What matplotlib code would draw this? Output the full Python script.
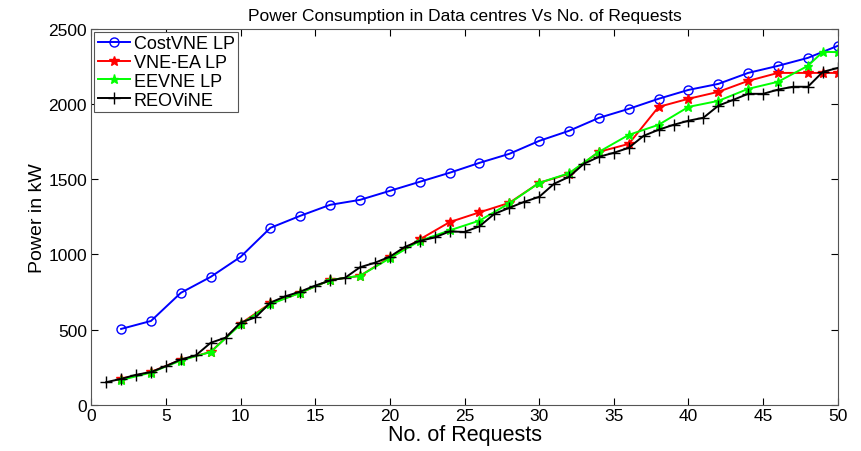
import numpy as np
import matplotlib.pyplot as plt

plt.rcParams['font.family'] = ['Liberation Sans', 'DejaVu Sans']

# data
x_even = list(range(2, 51, 2))
cost_vne = [505, 558, 745, 851, 984, 1177, 1257, 1330, 1363, 1423, 1483, 1543, 1609,
            1669, 1755, 1822, 1908, 1968, 2035, 2094, 2134, 2207, 2254, 2307, 2387]

x_ea = list(range(2, 49, 2)) + [49, 50]
vne_ea = [173, 219, 299, 352, 540, 675, 745, 830, 858, 980, 1100, 1215, 1280, 1343,
          1476, 1536, 1682, 1735, 1981, 2035, 2081, 2154, 2207, 2207, 2207, 2207]

x_ee = list(range(2, 49, 2)) + [49, 50]
eevne = [165, 215, 295, 352, 535, 670, 745, 830, 858, 975, 1090, 1160, 1225, 1340,
         1476, 1540, 1682, 1795, 1862, 1981, 2021, 2101, 2148, 2254, 2347, 2345]

x_all = list(range(1, 51))
reovine = [151, 173, 200, 218, 258, 302, 329, 413, 447, 547,
           582, 680, 722, 753, 793, 827, 845, 915, 945, 985,
           1050, 1090, 1113, 1153, 1150, 1187, 1270, 1310, 1350, 1383,
           1470, 1516, 1603, 1649, 1676, 1709, 1789, 1829, 1862, 1889,
           1909, 1989, 2028, 2068, 2068, 2096, 2115, 2115, 2214, 2240]

fig = plt.figure(figsize=(8.61, 4.52), dpi=100)
ax = fig.add_axes([0.106, 0.102, 0.867, 0.832])

ax.plot(x_even, cost_vne, color='#0000ff', marker='o', markersize=6.5,
        markerfacecolor='none', linewidth=1.4, label='CostVNE LP')
ax.plot(x_ea, vne_ea, color='#ff0000', marker='*', markersize=7.5,
        linewidth=1.4, label='VNE-EA LP')
ax.plot(x_ee, eevne, color='#00ff00', marker='*', markersize=6.5,
        linewidth=1.4, label='EEVNE LP')
ax.plot(x_all, reovine, color='black', marker='+', markersize=8,
        linewidth=1.4, label='REOViNE')

ax.set_xlim(0, 50)
ax.set_ylim(0, 2500)
ax.set_xticks(np.arange(0, 51, 5))
ax.set_yticks(np.arange(0, 2501, 500))
ax.tick_params(direction='in', top=True, right=True, labelsize=12.5, length=5, pad=3)
ax.tick_params(axis='x', pad=2)
for s in ax.spines.values():
    s.set_color('#555555')

ax.set_title('Power Consumption in Data centres Vs No. of Requests', fontsize=12.5, pad=6)
ax.set_xlabel('No. of Requests', fontsize=15.5, labelpad=1)
ax.set_ylabel('Power in kW', fontsize=14, labelpad=2)

leg = ax.legend(loc='upper left', fontsize=13, fancybox=False, framealpha=1,
                edgecolor='#555555', borderaxespad=0.15, handlelength=1.8,
                labelspacing=0.1, borderpad=0.2, handletextpad=0.2)
leg.get_frame().set_linewidth(0.8)

fig.savefig('out.png', dpi=100)
